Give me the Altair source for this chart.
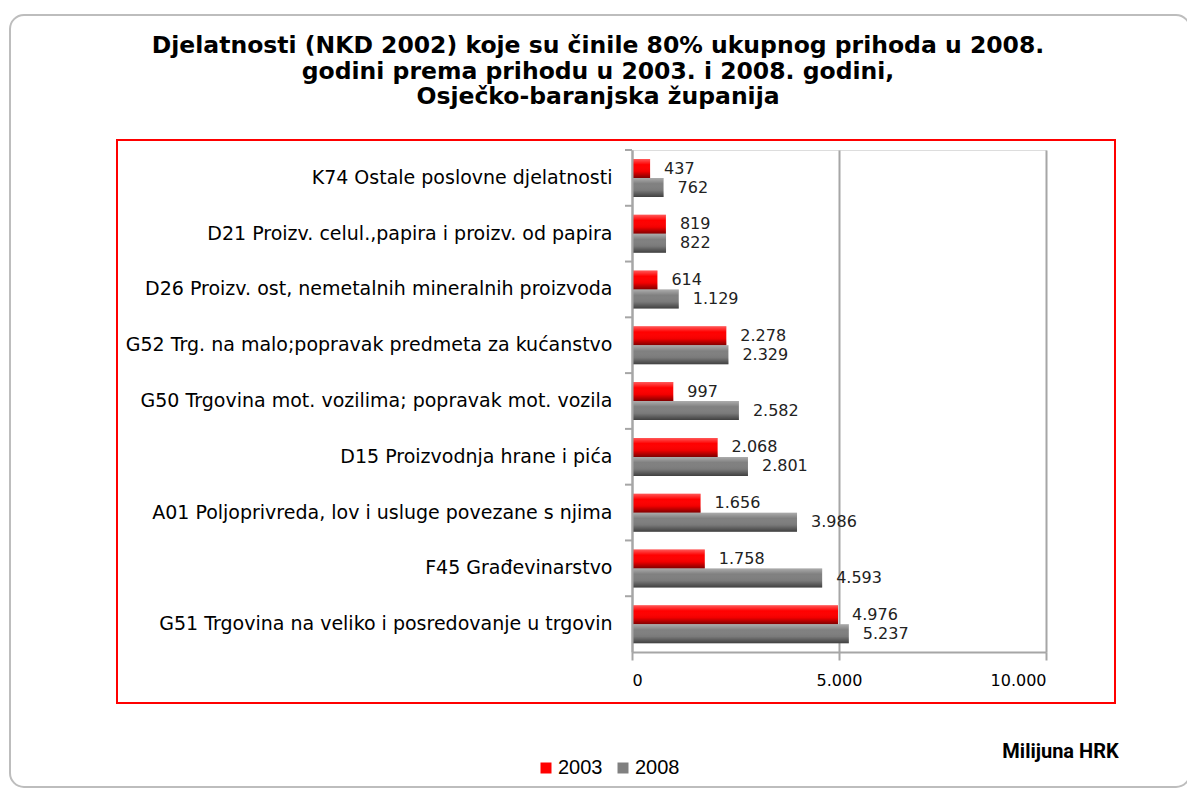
import altair as alt
import pandas as pd

categories = [
    "K74 Ostale poslovne djelatnosti",
    "D21 Proizv. celul.,papira i proizv. od papira",
    "D26 Proizv. ost, nemetalnih mineralnih proizvoda",
    "G52 Trg. na malo;popravak predmeta za kućanstvo",
    "G50 Trgovina mot. vozilima; popravak mot. vozila",
    "D15 Proizvodnja hrane i pića",
    "A01 Poljoprivreda, lov i usluge povezane s njima",
    "F45 Građevinarstvo",
    "G51 Trgovina na veliko i posredovanje u trgovin",
]
v2003 = [437, 819, 614, 2278, 997, 2068, 1656, 1758, 4976]
v2008 = [762, 822, 1129, 2329, 2582, 2801, 3986, 4593, 5237]
years = ["2003", "2008"]
colors = ["#FF0000", "#808080"]
x_ticks = [0, 5000, 10000]
title_lines = [
    "Djelatnosti (NKD 2002) koje su činile 80% ukupnog prihoda u 2008.",
    "godini prema prihodu u 2003. i 2008. godini,",
    "Osječko-baranjska županija",
]
unit_label = "Milijuna HRK"

rows = []
for c, a, b in zip(categories, v2003, v2008):
    rows.append({"cat": c, "year": years[0], "value": a})
    rows.append({"cat": c, "year": years[1], "value": b})
df = pd.DataFrame(rows)
df["label"] = df["value"].map(lambda v: f"{v:,}".replace(",", "."))

W, H = 414, 502
PAD_L, PAD_T = 624, 142
PAD_R = 1179 - PAD_L - W
PAD_B = 781 - PAD_T - H

label_font = "DejaVu Sans"

x_enc = alt.X(
    "value:Q",
    scale=alt.Scale(domain=[0, 10000], nice=False, zero=True),
    axis=alt.Axis(
        values=x_ticks,
        labelExpr="replace(format(datum.value, ',d'), ',', '.')",
        labelFont=label_font,
        labelFontSize=16,
        labelColor="#000000",
        labelPadding=12,
        tickSize=8,
        tickColor="#A6A6A6",
        tickWidth=2,
        domainColor="#A6A6A6",
        domainWidth=2,
        grid=True,
        gridColor="#A6A6A6",
        gridWidth=2,
        zindex=0,
        title=unit_label,
        titleFont="Roboto",
        titleFontWeight="bold",
        titleFontSize=20,
        titleColor="#000000",
        titleX=428,
        titleY=99,
        titleAlign="center",
        titleBaseline="middle",
    ),
)
y_enc = alt.Y(
    "cat:N",
    sort=categories,
    scale=alt.Scale(paddingInner=0, paddingOuter=0),
    axis=alt.Axis(
        title=None,
        labelFont=label_font,
        labelFontSize=19,
        labelColor="#000000",
        labelPadding=20,
        labelLimit=600,
        ticks=False,
        domainColor="#A6A6A6",
        domainWidth=2,
        zindex=1,
    ),
)
yoff_enc = alt.YOffset(
    "year:N",
    sort=years,
    scale=alt.Scale(range=[9, 47], paddingInner=0, paddingOuter=0),
)

deco_src = pd.DataFrame({"d": [0]})
outer_box = alt.Chart(deco_src).mark_rect(
    fill="transparent", stroke="#BDBDBD", strokeWidth=2, cornerRadius=14
).encode(
    x=alt.value(-622), x2=alt.value(558), y=alt.value(-135), y2=alt.value(637)
)
red_box = alt.Chart(deco_src).mark_rect(
    fill="transparent", stroke="#FF0000", strokeWidth=2
).encode(
    x=alt.value(-515), x2=alt.value(483), y=alt.value(-10), y2=alt.value(553)
)
title_mark = alt.Chart(deco_src).mark_text(
    text=title_lines,
    font="DejaVu Sans",
    fontWeight="bold",
    fontSize=23.5,
    lineHeight=25.5,
    color="#000000",
    align="center",
    baseline="top",
).encode(x=alt.value(-34), y=alt.value(-116))

base = alt.Chart(df)

bars = base.mark_bar(size=19).encode(
    x=x_enc,
    y=y_enc,
    yOffset=yoff_enc,
    color=alt.Color(
        "year:N",
        scale=alt.Scale(domain=years, range=colors),
        legend=alt.Legend(
            orient="none",
            legendX=-96,
            legendY=608,
            direction="horizontal",
            title=None,
            symbolType="square",
            symbolSize=121,
            symbolStrokeWidth=0,
            labelFont="Liberation Sans",
            labelFontSize=20,
            labelColor="#000000",
            columnPadding=10,
            labelOffset=2,
        ),
    ),
)

shade = base.mark_bar(
    size=19,
    fill=alt.Gradient(
        gradient="linear",
        x1=0, x2=0, y1=0, y2=1,
        stops=[
            alt.GradientStop(offset=0, color="rgba(255,255,255,0.35)"),
            alt.GradientStop(offset=0.3, color="rgba(255,255,255,0)"),
            alt.GradientStop(offset=0.65, color="rgba(0,0,0,0.05)"),
            alt.GradientStop(offset=1, color="rgba(0,0,0,0.5)"),
        ],
    ),
).encode(x="value:Q", y=alt.Y("cat:N", sort=categories), yOffset=alt.YOffset("year:N", sort=years))

texts = base.mark_text(
    align="left", baseline="middle", dx=14, font=label_font, fontSize=16, color="#222222"
).encode(
    x="value:Q",
    y=alt.Y("cat:N", sort=categories),
    yOffset=alt.YOffset("year:N", sort=years),
    text="label:N",
)

ticks = alt.Chart(pd.DataFrame({"cat": categories})).mark_rule(
    color="#A6A6A6", strokeWidth=2
).encode(
    y=alt.Y("cat:N", sort=categories, bandPosition=0),
    x=alt.value(-7),
    x2=alt.value(0),
)

chart = alt.layer(outer_box, red_box, title_mark, bars, shade, texts, ticks).properties(
    width=W,
    height=H,
    padding={"left": PAD_L, "top": PAD_T, "right": PAD_R, "bottom": PAD_B},
    autosize=alt.AutoSizeParams(type="none"),
).configure_view(stroke=None).configure(background="#FFFFFF")

chart.save("out.html", embed_options={"renderer": "svg", "actions": False})
